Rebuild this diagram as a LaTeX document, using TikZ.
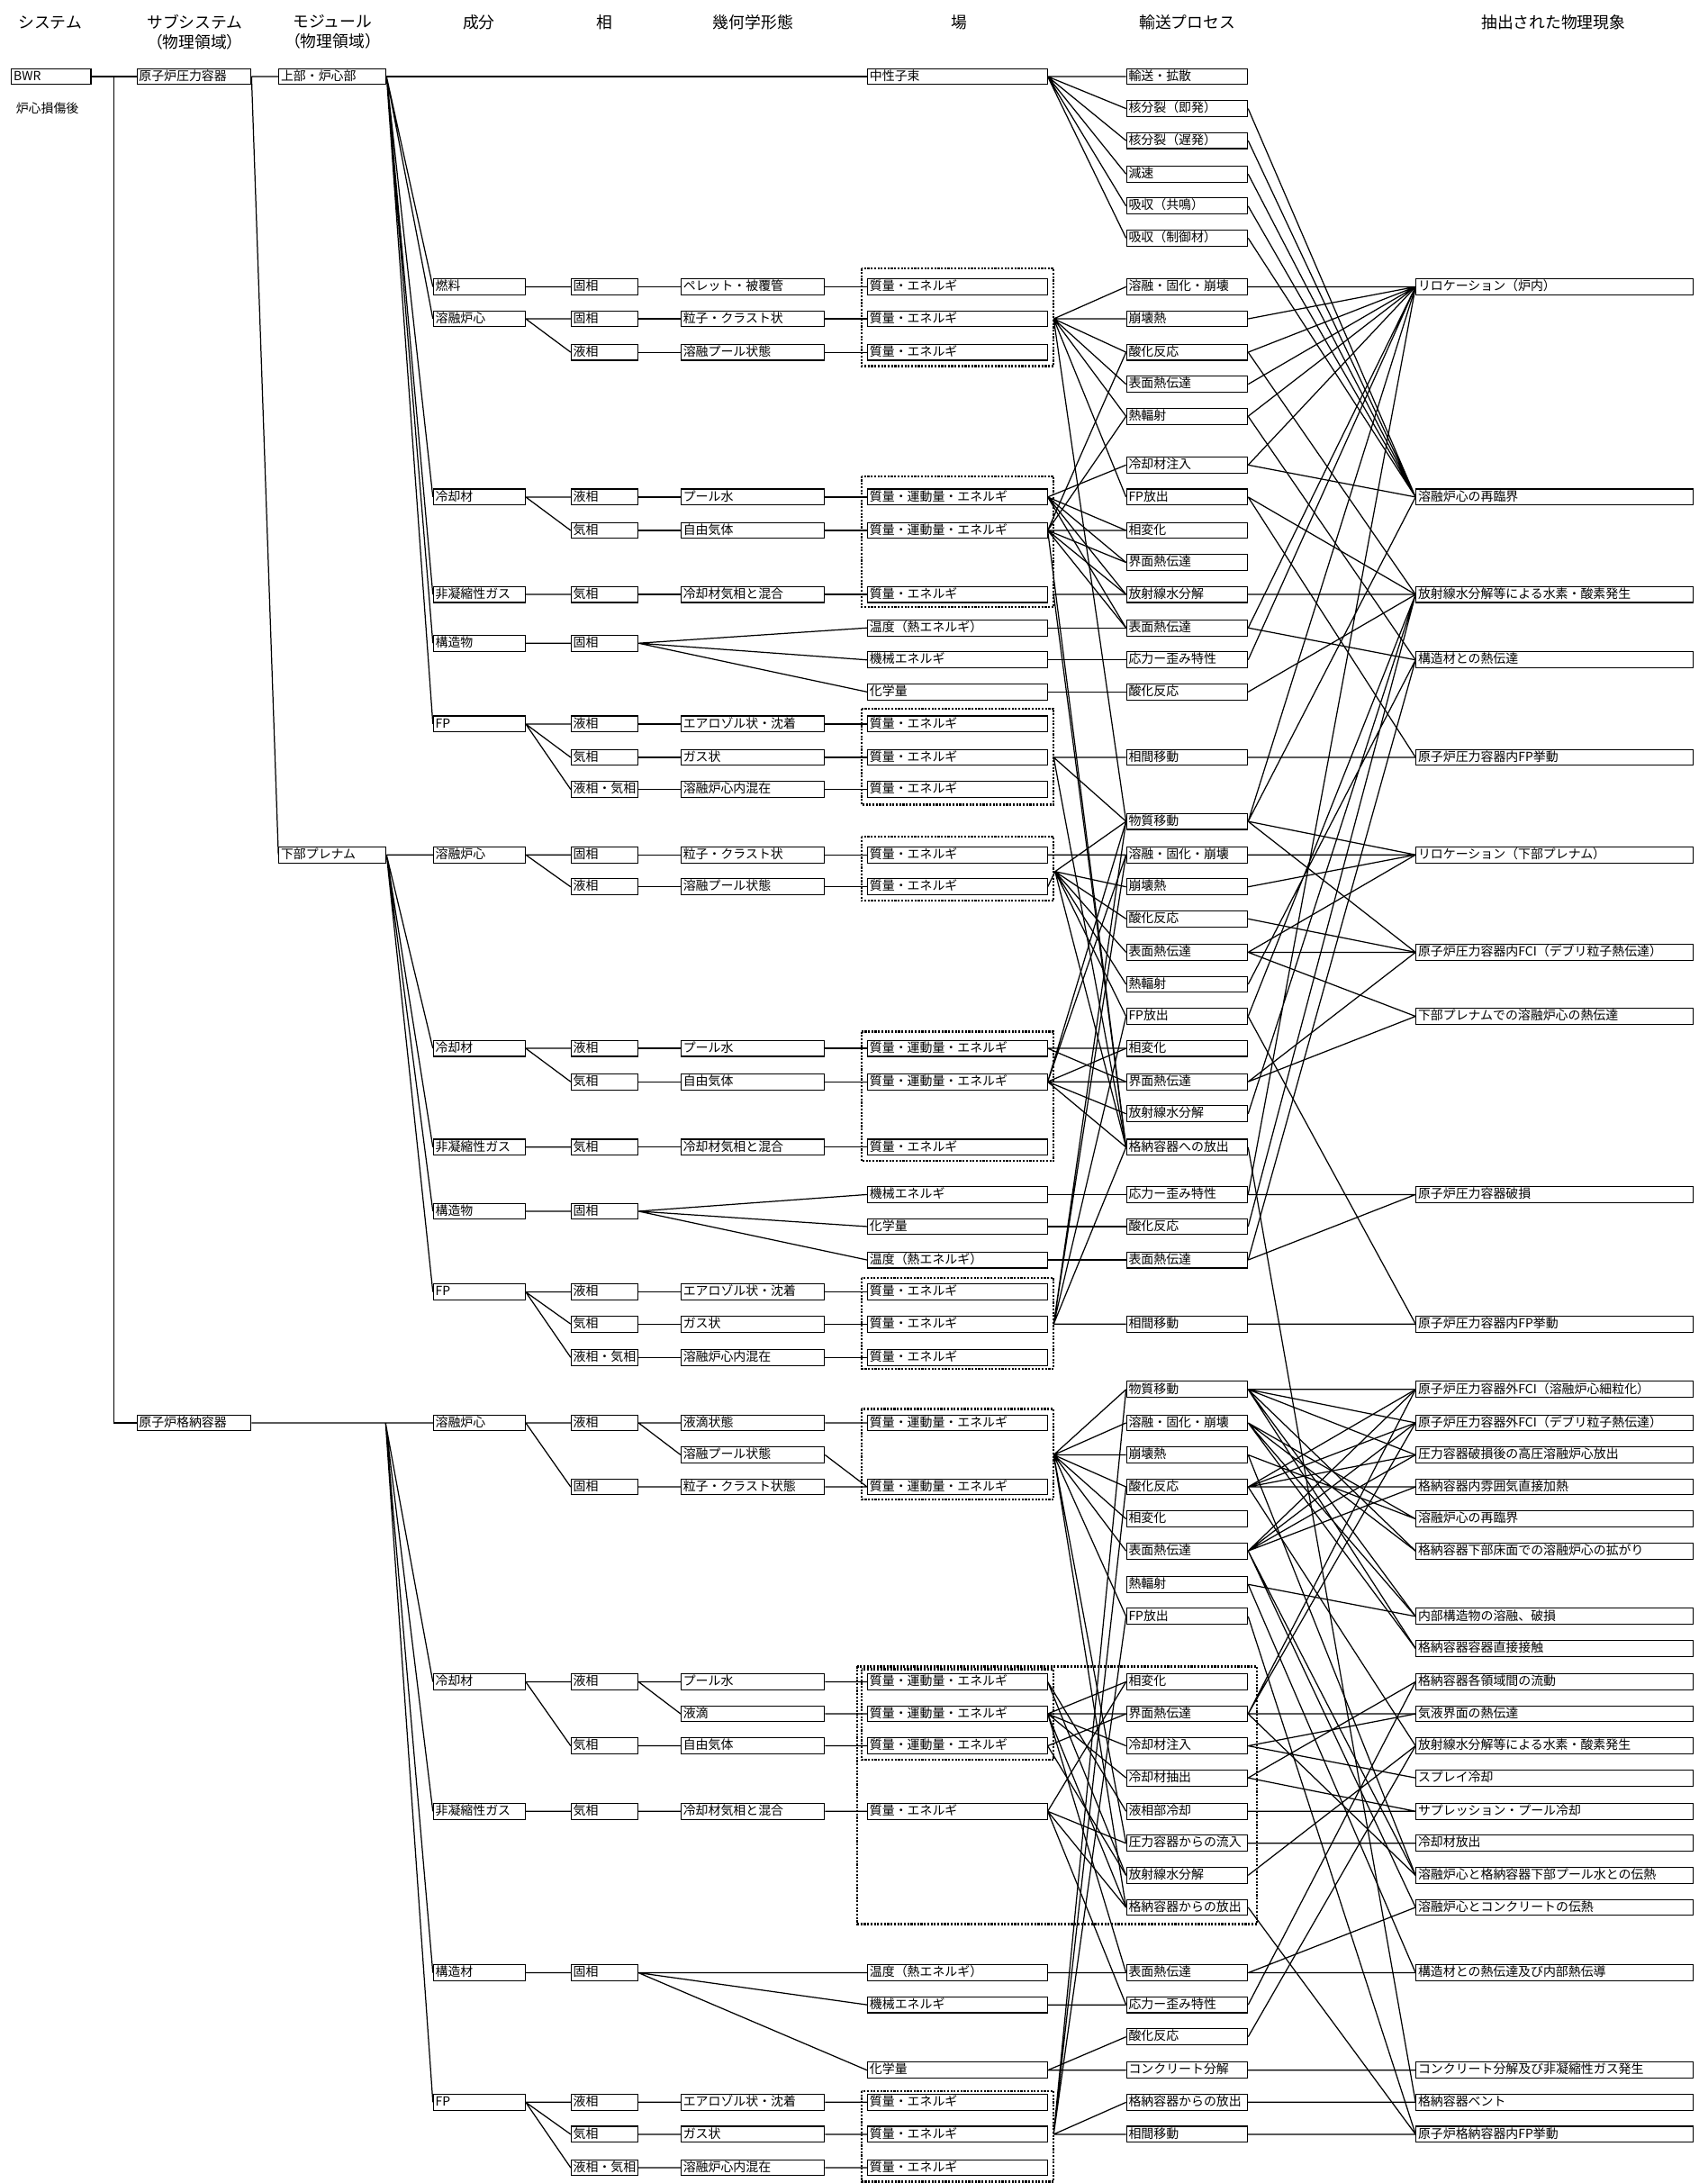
\documentclass[tikz,border=0pt]{standalone}
\usepackage{fontspec}
\setmainfont{Noto Sans CJK JP}

\tikzset{
  cell/.style={draw=black, line width=0.7pt, anchor=west, minimum height=11.5pt, inner xsep=1.5pt, inner ysep=0.5pt, text height=7.4pt, text depth=2pt, font=\fontsize{9}{9.5}\selectfont, align=left},
  sysbox/.style={cell, text width=54pt},
  subbox/.style={cell, text width=79pt},
  modbox/.style={cell, text width=74pt},
  compbox/.style={cell, text width=63pt},
  phasebox/.style={cell, text width=45pt},
  geobox/.style={cell, text width=100pt},
  fieldbox/.style={cell, text width=126pt},
  procbox/.style={cell, text width=84pt},
  phenbox/.style={cell, text width=196pt},
  grp/.style={densely dotted, line width=1.4pt},
  link/.style={line width=0.8pt},
  colhead/.style={font=\fontsize{11.5}{14}\selectfont, align=center}
}

\begin{document}
\begin{tikzpicture}[x=1pt, y=-1pt]
\useasboundingbox (0,0) rectangle (1227,1568);

% column headers
\node[colhead] (hsys) at (36,16) {システム};
\node[colhead] (hsub) at (140,23) {サブシステム\\（物理領域）};
\node[colhead] (hmod) at (239,23) {モジュール\\（物理領域）};
\node[colhead] (hcomp) at (344,16) {成分};
\node[colhead] (hphase) at (434,16) {相};
\node[colhead] (hgeo) at (541,16) {幾何学形態};
\node[colhead] (hfield) at (689,16) {場};
\node[colhead] (hproc) at (853,16) {輸送プロセス};
\node[colhead] (hphen) at (1116,16) {抽出された物理現象};

% system, subsystems, modules
\node[sysbox] (bwr) at (8,55) {BWR};
\node[anchor=west, font=\fontsize{9}{9.5}\selectfont] (dmg) at (8,78) {炉心損傷後};
\node[subbox] (srpv) at (98,55) {原子炉圧力容器};
\node[subbox] (spcv) at (98,1022) {原子炉格納容器};
\node[modbox] (mupper) at (200,55) {上部・炉心部};
\node[modbox] (mlower) at (200,614) {下部プレナム};

% dotted field groups
\draw[grp] (619,193) rectangle (757,263);
\draw[grp] (619,342) rectangle (757,436);
\draw[grp] (619,509) rectangle (757,578);
\draw[grp] (619,601) rectangle (757,647);
\draw[grp] (619,741) rectangle (757,834);
\draw[grp] (619,918) rectangle (757,983);
\draw[grp] (619,1012) rectangle (757,1077);
\draw[grp] (619,1199) rectangle (757,1264);
\draw[grp] (616,1197) rectangle (903,1382);
\draw[grp] (619,1502) rectangle (757,1567);

% ---- upper core ----
\node[compbox] (uc1) at (311,206) {燃料};
\node[compbox] (uc2) at (311,229) {溶融炉心};
\node[compbox] (uc3) at (311,357) {冷却材};
\node[compbox] (uc4) at (311,427) {非凝縮性ガス};
\node[compbox] (uc5) at (311,462) {構造物};
\node[compbox] (uc6) at (311,520) {FP};

\node[phasebox] (uh1) at (410,206) {固相};
\node[phasebox] (uh2) at (410,229) {固相};
\node[phasebox] (uh3) at (410,253) {液相};
\node[phasebox] (uh4) at (410,357) {液相};
\node[phasebox] (uh5) at (410,381) {気相};
\node[phasebox] (uh6) at (410,427) {気相};
\node[phasebox] (uh7) at (410,462) {固相};
\node[phasebox] (uh8) at (410,520) {液相};
\node[phasebox] (uh9) at (410,544) {気相};
\node[phasebox] (uh10) at (410,567) {液相・気相};

\node[geobox] (ug1) at (489,206) {ペレット・被覆管};
\node[geobox] (ug2) at (489,229) {粒子・クラスト状};
\node[geobox] (ug3) at (489,253) {溶融プール状態};
\node[geobox] (ug4) at (489,357) {プール水};
\node[geobox] (ug5) at (489,381) {自由気体};
\node[geobox] (ug6) at (489,427) {冷却材気相と混合};
\node[geobox] (ug7) at (489,520) {エアロゾル状・沈着};
\node[geobox] (ug8) at (489,544) {ガス状};
\node[geobox] (ug9) at (489,567) {溶融炉心内混在};

\node[fieldbox] (uf0) at (623,55) {中性子束};
\node[fieldbox] (uf1) at (623,206) {質量・エネルギ};
\node[fieldbox] (uf2) at (623,229) {質量・エネルギ};
\node[fieldbox] (uf3) at (623,253) {質量・エネルギ};
\node[fieldbox] (uf4) at (623,357) {質量・運動量・エネルギ};
\node[fieldbox] (uf5) at (623,381) {質量・運動量・エネルギ};
\node[fieldbox] (uf6) at (623,427) {質量・エネルギ};
\node[fieldbox] (uf7) at (623,451) {温度（熱エネルギ）};
\node[fieldbox] (uf8) at (623,474) {機械エネルギ};
\node[fieldbox] (uf9) at (623,497) {化学量};
\node[fieldbox] (uf10) at (623,520) {質量・エネルギ};
\node[fieldbox] (uf11) at (623,544) {質量・エネルギ};
\node[fieldbox] (uf12) at (623,567) {質量・エネルギ};

\node[procbox] (ut1) at (809,55) {輸送・拡散};
\node[procbox] (ut2) at (809,78) {核分裂（即発）};
\node[procbox] (ut3) at (809,101) {核分裂（遅発）};
\node[procbox] (ut4) at (809,125) {減速};
\node[procbox] (ut5) at (809,148) {吸収（共鳴）};
\node[procbox] (ut6) at (809,171) {吸収（制御材）};
\node[procbox] (ut7) at (809,206) {溶融・固化・崩壊};
\node[procbox] (ut8) at (809,229) {崩壊熱};
\node[procbox] (ut9) at (809,253) {酸化反応};
\node[procbox] (ut10) at (809,276) {表面熱伝達};
\node[procbox] (ut11) at (809,299) {熱輻射};
\node[procbox] (ut12) at (809,334) {冷却材注入};
\node[procbox] (ut13) at (809,357) {FP放出};
\node[procbox] (ut14) at (809,381) {相変化};
\node[procbox] (ut15) at (809,404) {界面熱伝達};
\node[procbox] (ut16) at (809,427) {放射線水分解};
\node[procbox] (ut17) at (809,451) {表面熱伝達};
\node[procbox] (ut18) at (809,474) {応力ー歪み特性};
\node[procbox] (ut19) at (809,497) {酸化反応};
\node[procbox] (ut20) at (809,544) {相間移動};

\node[phenbox] (up1) at (1017,206) {リロケーション（炉内）};
\node[phenbox] (up2) at (1017,357) {溶融炉心の再臨界};
\node[phenbox] (up3) at (1017,427) {放射線水分解等による水素・酸素発生};
\node[phenbox] (up4) at (1017,474) {構造材との熱伝達};
\node[phenbox] (up5) at (1017,544) {原子炉圧力容器内FP挙動};

% ---- lower plenum ----
\node[compbox] (lc1) at (311,614) {溶融炉心};
\node[compbox] (lc2) at (311,753) {冷却材};
\node[compbox] (lc3) at (311,824) {非凝縮性ガス};
\node[compbox] (lc4) at (311,870) {構造物};
\node[compbox] (lc5) at (311,928) {FP};

\node[phasebox] (lh1) at (410,614) {固相};
\node[phasebox] (lh2) at (410,637) {液相};
\node[phasebox] (lh3) at (410,753) {液相};
\node[phasebox] (lh4) at (410,777) {気相};
\node[phasebox] (lh5) at (410,824) {気相};
\node[phasebox] (lh6) at (410,870) {固相};
\node[phasebox] (lh7) at (410,928) {液相};
\node[phasebox] (lh8) at (410,951) {気相};
\node[phasebox] (lh9) at (410,975) {液相・気相};

\node[geobox] (lg1) at (489,614) {粒子・クラスト状};
\node[geobox] (lg2) at (489,637) {溶融プール状態};
\node[geobox] (lg3) at (489,753) {プール水};
\node[geobox] (lg4) at (489,777) {自由気体};
\node[geobox] (lg5) at (489,824) {冷却材気相と混合};
\node[geobox] (lg6) at (489,928) {エアロゾル状・沈着};
\node[geobox] (lg7) at (489,951) {ガス状};
\node[geobox] (lg8) at (489,975) {溶融炉心内混在};

\node[fieldbox] (lf1) at (623,614) {質量・エネルギ};
\node[fieldbox] (lf2) at (623,637) {質量・エネルギ};
\node[fieldbox] (lf3) at (623,753) {質量・運動量・エネルギ};
\node[fieldbox] (lf4) at (623,777) {質量・運動量・エネルギ};
\node[fieldbox] (lf5) at (623,824) {質量・エネルギ};
\node[fieldbox] (lf6) at (623,858) {機械エネルギ};
\node[fieldbox] (lf7) at (623,881) {化学量};
\node[fieldbox] (lf8) at (623,905) {温度（熱エネルギ）};
\node[fieldbox] (lf9) at (623,928) {質量・エネルギ};
\node[fieldbox] (lf10) at (623,951) {質量・エネルギ};
\node[fieldbox] (lf11) at (623,975) {質量・エネルギ};

\node[procbox] (lt1) at (809,590) {物質移動};
\node[procbox] (lt2) at (809,614) {溶融・固化・崩壊};
\node[procbox] (lt3) at (809,637) {崩壊熱};
\node[procbox] (lt4) at (809,660) {酸化反応};
\node[procbox] (lt5) at (809,684) {表面熱伝達};
\node[procbox] (lt6) at (809,707) {熱輻射};
\node[procbox] (lt7) at (809,730) {FP放出};
\node[procbox] (lt8) at (809,753) {相変化};
\node[procbox] (lt9) at (809,777) {界面熱伝達};
\node[procbox] (lt10) at (809,800) {放射線水分解};
\node[procbox] (lt11) at (809,824) {格納容器への放出};
\node[procbox] (lt12) at (809,858) {応力ー歪み特性};
\node[procbox] (lt13) at (809,881) {酸化反応};
\node[procbox] (lt14) at (809,905) {表面熱伝達};
\node[procbox] (lt15) at (809,951) {相間移動};

\node[phenbox] (lp1) at (1017,614) {リロケーション（下部プレナム）};
\node[phenbox] (lp2) at (1017,684) {原子炉圧力容器内FCI（デブリ粒子熱伝達）};
\node[phenbox] (lp3) at (1017,730) {下部プレナムでの溶融炉心の熱伝達};
\node[phenbox] (lp4) at (1017,858) {原子炉圧力容器破損};
\node[phenbox] (lp5) at (1017,951) {原子炉圧力容器内FP挙動};

% ---- containment ----
\node[compbox] (cc1) at (311,1022) {溶融炉心};
\node[compbox] (cc2) at (311,1208) {冷却材};
\node[compbox] (cc3) at (311,1301) {非凝縮性ガス};
\node[compbox] (cc4) at (311,1417) {構造材};
\node[compbox] (cc5) at (311,1510) {FP};

\node[phasebox] (ch1) at (410,1022) {液相};
\node[phasebox] (ch2) at (410,1068) {固相};
\node[phasebox] (ch3) at (410,1208) {液相};
\node[phasebox] (ch4) at (410,1254) {気相};
\node[phasebox] (ch5) at (410,1301) {気相};
\node[phasebox] (ch6) at (410,1417) {固相};
\node[phasebox] (ch7) at (410,1510) {液相};
\node[phasebox] (ch8) at (410,1533) {気相};
\node[phasebox] (ch9) at (410,1557) {液相・気相};

\node[geobox] (cg1) at (489,1022) {液滴状態};
\node[geobox] (cg2) at (489,1045) {溶融プール状態};
\node[geobox] (cg3) at (489,1068) {粒子・クラスト状態};
\node[geobox] (cg4) at (489,1208) {プール水};
\node[geobox] (cg5) at (489,1231) {液滴};
\node[geobox] (cg6) at (489,1254) {自由気体};
\node[geobox] (cg7) at (489,1301) {冷却材気相と混合};
\node[geobox] (cg8) at (489,1510) {エアロゾル状・沈着};
\node[geobox] (cg9) at (489,1533) {ガス状};
\node[geobox] (cg10) at (489,1557) {溶融炉心内混在};

\node[fieldbox] (cf1) at (623,1022) {質量・運動量・エネルギ};
\node[fieldbox] (cf2) at (623,1068) {質量・運動量・エネルギ};
\node[fieldbox] (cf3) at (623,1208) {質量・運動量・エネルギ};
\node[fieldbox] (cf4) at (623,1231) {質量・運動量・エネルギ};
\node[fieldbox] (cf5) at (623,1254) {質量・運動量・エネルギ};
\node[fieldbox] (cf6) at (623,1301) {質量・エネルギ};
\node[fieldbox] (cf7) at (623,1417) {温度（熱エネルギ）};
\node[fieldbox] (cf8) at (623,1440) {機械エネルギ};
\node[fieldbox] (cf9) at (623,1487) {化学量};
\node[fieldbox] (cf10) at (623,1510) {質量・エネルギ};
\node[fieldbox] (cf11) at (623,1533) {質量・エネルギ};
\node[fieldbox] (cf12) at (623,1557) {質量・エネルギ};

\node[procbox] (ct1) at (809,998) {物質移動};
\node[procbox] (ct2) at (809,1022) {溶融・固化・崩壊};
\node[procbox] (ct3) at (809,1045) {崩壊熱};
\node[procbox] (ct4) at (809,1068) {酸化反応};
\node[procbox] (ct5) at (809,1091) {相変化};
\node[procbox] (ct6) at (809,1114) {表面熱伝達};
\node[procbox] (ct7) at (809,1138) {熱輻射};
\node[procbox] (ct8) at (809,1161) {FP放出};
\node[procbox] (ct9) at (809,1208) {相変化};
\node[procbox] (ct10) at (809,1231) {界面熱伝達};
\node[procbox] (ct11) at (809,1254) {冷却材注入};
\node[procbox] (ct12) at (809,1277) {冷却材抽出};
\node[procbox] (ct13) at (809,1301) {液相部冷却};
\node[procbox] (ct14) at (809,1324) {圧力容器からの流入};
\node[procbox] (ct15) at (809,1347) {放射線水分解};
\node[procbox] (ct16) at (809,1370) {格納容器からの放出};
\node[procbox] (ct17) at (809,1417) {表面熱伝達};
\node[procbox] (ct18) at (809,1440) {応力ー歪み特性};
\node[procbox] (ct19) at (809,1463) {酸化反応};
\node[procbox] (ct20) at (809,1487) {コンクリート分解};
\node[procbox] (ct21) at (809,1510) {格納容器からの放出};
\node[procbox] (ct22) at (809,1533) {相間移動};

\node[phenbox] (cp1) at (1017,998) {原子炉圧力容器外FCI（溶融炉心細粒化）};
\node[phenbox] (cp2) at (1017,1022) {原子炉圧力容器外FCI（デブリ粒子熱伝達）};
\node[phenbox] (cp3) at (1017,1045) {圧力容器破損後の高圧溶融炉心放出};
\node[phenbox] (cp4) at (1017,1068) {格納容器内雰囲気直接加熱};
\node[phenbox] (cp5) at (1017,1091) {溶融炉心の再臨界};
\node[phenbox] (cp6) at (1017,1114) {格納容器下部床面での溶融炉心の拡がり};
\node[phenbox] (cp7) at (1017,1161) {内部構造物の溶融、破損};
\node[phenbox] (cp8) at (1017,1184) {格納容器容器直接接触};
\node[phenbox] (cp9) at (1017,1208) {格納容器各領域間の流動};
\node[phenbox] (cp10) at (1017,1231) {気液界面の熱伝達};
\node[phenbox] (cp11) at (1017,1254) {放射線水分解等による水素・酸素発生};
\node[phenbox] (cp12) at (1017,1277) {スプレイ冷却};
\node[phenbox] (cp13) at (1017,1301) {サプレッション・プール冷却};
\node[phenbox] (cp14) at (1017,1324) {冷却材放出};
\node[phenbox] (cp15) at (1017,1347) {溶融炉心と格納容器下部プール水との伝熱};
\node[phenbox] (cp16) at (1017,1370) {溶融炉心とコンクリートの伝熱};
\node[phenbox] (cp17) at (1017,1417) {構造材との熱伝達及び内部熱伝導};
\node[phenbox] (cp18) at (1017,1487) {コンクリート分解及び非凝縮性ガス発生};
\node[phenbox] (cp19) at (1017,1510) {格納容器ベント};
\node[phenbox] (cp20) at (1017,1533) {原子炉格納容器内FP挙動};

% branch points
\coordinate (trunk) at (82,55);
\coordinate (trunkend) at (82,1022);
\coordinate (cfan) at (277,1022);
\coordinate (usrc1) at (757,229);
\coordinate (usrc3) at (757,427);
\coordinate (usrc4) at (757,544);
\coordinate (lsrc1) at (758,626);
\coordinate (lsrc3) at (757,951);
\coordinate (csrc1) at (757,1045);
\coordinate (csrc4) at (757,1533);

% tree
\draw[link] (bwr.east) -- (trunk) -- (srpv.west);
\draw[link] (trunk) -- (trunkend) -- (spcv.west);
\draw[link] (srpv.east) -- (mupper.west) (srpv.east) -- (mlower.west);
\draw[link] (mupper.east) -- (uf0.west);
\draw[link] (mupper.east) -- (uc1.west) (mupper.east) -- (uc2.west) (mupper.east) -- (uc3.west) (mupper.east) -- (uc4.west) (mupper.east) -- (uc5.west) (mupper.east) -- (uc6.west);
\draw[link] (mlower.east) -- (lc1.west) (mlower.east) -- (lc2.west) (mlower.east) -- (lc3.west) (mlower.east) -- (lc4.west) (mlower.east) -- (lc5.west);
\draw[link] (spcv.east) -- (cc1.west) (cfan) -- (cc2.west) (cfan) -- (cc3.west) (cfan) -- (cc4.west) (cfan) -- (cc5.west);

% component -> phase
\draw[link] (uc1.east) -- (uh1.west) (uc2.east) -- (uh2.west) (uc2.east) -- (uh3.west) (uc3.east) -- (uh4.west) (uc3.east) -- (uh5.west) (uc4.east) -- (uh6.west) (uc5.east) -- (uh7.west) (uc6.east) -- (uh8.west) (uc6.east) -- (uh9.west) (uc6.east) -- (uh10.west);
\draw[link] (lc1.east) -- (lh1.west) (lc1.east) -- (lh2.west) (lc2.east) -- (lh3.west) (lc2.east) -- (lh4.west) (lc3.east) -- (lh5.west) (lc4.east) -- (lh6.west) (lc5.east) -- (lh7.west) (lc5.east) -- (lh8.west) (lc5.east) -- (lh9.west);
\draw[link] (cc1.east) -- (ch1.west) (cc1.east) -- (ch2.west) (cc2.east) -- (ch3.west) (cc2.east) -- (ch4.west) (cc3.east) -- (ch5.west) (cc4.east) -- (ch6.west) (cc5.east) -- (ch7.west) (cc5.east) -- (ch8.west) (cc5.east) -- (ch9.west);

% phase -> geometry
\draw[link] (uh1.east) -- (ug1.west) (uh2.east) -- (ug2.west) (uh3.east) -- (ug3.west) (uh4.east) -- (ug4.west) (uh5.east) -- (ug5.west) (uh6.east) -- (ug6.west) (uh8.east) -- (ug7.west) (uh9.east) -- (ug8.west) (uh10.east) -- (ug9.west);
\draw[link] (uh7.east) -- (uf7.west) (uh7.east) -- (uf8.west) (uh7.east) -- (uf9.west);
\draw[link] (lh1.east) -- (lg1.west) (lh2.east) -- (lg2.west) (lh3.east) -- (lg3.west) (lh4.east) -- (lg4.west) (lh5.east) -- (lg5.west) (lh7.east) -- (lg6.west) (lh8.east) -- (lg7.west) (lh9.east) -- (lg8.west);
\draw[link] (lh6.east) -- (lf6.west) (lh6.east) -- (lf7.west) (lh6.east) -- (lf8.west);
\draw[link] (ch1.east) -- (cg1.west) (ch1.east) -- (cg2.west) (ch2.east) -- (cg3.west) (ch3.east) -- (cg4.west) (ch3.east) -- (cg5.west) (ch4.east) -- (cg6.west) (ch5.east) -- (cg7.west) (ch7.east) -- (cg8.west) (ch8.east) -- (cg9.west) (ch9.east) -- (cg10.west);
\draw[link] (ch6.east) -- (cf7.west) (ch6.east) -- (cf8.west) (ch6.east) -- (cf9.west);

% geometry -> field
\draw[link] (ug1.east) -- (uf1.west) (ug2.east) -- (uf2.west) (ug3.east) -- (uf3.west) (ug4.east) -- (uf4.west) (ug5.east) -- (uf5.west) (ug6.east) -- (uf6.west) (ug7.east) -- (uf10.west) (ug8.east) -- (uf11.west) (ug9.east) -- (uf12.west);
\draw[link] (lg1.east) -- (lf1.west) (lg2.east) -- (lf2.west) (lg3.east) -- (lf3.west) (lg4.east) -- (lf4.west) (lg5.east) -- (lf5.west) (lg6.east) -- (lf9.west) (lg7.east) -- (lf10.west) (lg8.east) -- (lf11.west);
\draw[link] (cg1.east) -- (cf1.west) (cg2.east) -- (cf2.west) (cg3.east) -- (cf2.west) (cg4.east) -- (cf3.west) (cg5.east) -- (cf4.west) (cg6.east) -- (cf5.west) (cg7.east) -- (cf6.west) (cg8.east) -- (cf10.west) (cg9.east) -- (cf11.west) (cg10.east) -- (cf12.west);

% field -> transport process (upper core)
\draw[link] (uf0.east) -- (ut1.west) (uf0.east) -- (ut2.west) (uf0.east) -- (ut3.west) (uf0.east) -- (ut4.west) (uf0.east) -- (ut5.west) (uf0.east) -- (ut6.west);
\draw[link] (usrc1) -- (ut7.west) (usrc1) -- (ut8.west) (usrc1) -- (ut9.west) (usrc1) -- (ut10.west) (usrc1) -- (ut11.west) (usrc1) -- (ut13.west) (usrc1) -- (lt1.west);
\draw[link] (uf4.east) -- (ut12.west) (uf4.east) -- (ut14.west) (uf4.east) -- (ut15.west) (uf4.east) -- (ut16.west) (uf4.east) -- (ut17.west);
\draw[link] (uf5.east) -- (ut9.west) (uf5.east) -- (ut11.west) (uf5.east) -- (ut14.west) (uf5.east) -- (ut15.west) (uf5.east) -- (ut16.west) (uf5.east) -- (ut17.west) (uf5.east) -- (lt11.west);
\draw[link] (usrc3) -- (ut16.west) (usrc3) -- (lt11.west);
\draw[link] (uf7.east) -- (ut17.west) (uf8.east) -- (ut18.west) (uf9.east) -- (ut19.west);
\draw[link] (usrc4) -- (ut20.west) (usrc4) -- (lt1.west) (usrc4) -- (lt11.west);

% field -> transport process (lower plenum)
\draw[link] (lf1.east) -- (lt2.west) (lf2.east) -- (lsrc1);
\draw[link] (lsrc1) -- (lt1.west) (lsrc1) -- (lt3.west) (lsrc1) -- (lt4.west) (lsrc1) -- (lt5.west) (lsrc1) -- (lt6.west) (lsrc1) -- (lt7.west) (lsrc1) -- (lt11.west);
\draw[link] (lf3.east) -- (lt8.west) (lf3.east) -- (lt9.west);
\draw[link] (lf4.east) -- (lt1.west) (lf4.east) -- (lt2.west) (lf4.east) -- (lt8.west) (lf4.east) -- (lt9.west) (lf4.east) -- (lt10.west) (lf4.east) -- (lt11.west);
\draw[link] (lf6.east) -- (lt12.west) (lf7.east) -- (lt13.west) (lf8.east) -- (lt14.west);
\draw[link] (lsrc3) -- (lt15.west) (lsrc3) -- (lt1.west) (lsrc3) -- (lt2.west) (lsrc3) -- (lt7.west) (lsrc3) -- (lt11.west);

% field -> transport process (containment)
\draw[link] (csrc1) -- (ct1.west) (csrc1) -- (ct2.west) (csrc1) -- (ct3.west) (csrc1) -- (ct4.west) (csrc1) -- (ct5.west) (csrc1) -- (ct6.west) (csrc1) -- (ct8.west) (csrc1) -- (ct14.west) (csrc1) -- (ct16.west);
\draw[link] (cf3.east) -- (ct13.west) (cf3.east) -- (ct15.west);
\draw[link] (cf4.east) -- (ct9.west) (cf4.east) -- (ct10.west) (cf4.east) -- (ct11.west) (cf4.east) -- (ct12.west) (cf4.east) -- (ct16.west) (cf4.east) -- (ct17.west);
\draw[link] (cf5.east) -- (ct10.west) (cf5.east) -- (ct15.west);
\draw[link] (cf6.east) -- (ct9.west) (cf6.east) -- (ct14.west) (cf6.east) -- (ct16.west) (cf6.east) -- (ct18.west);
\draw[link] (cf7.east) -- (ct17.west) (cf8.east) -- (ct18.west) (cf9.east) -- (ct19.west) (cf9.east) -- (ct20.west);
\draw[link] (csrc4) -- (ct22.west) (csrc4) -- (ct21.west) (csrc4) -- (ct8.west) (csrc4) -- (ct1.west) (csrc4) -- (ct4.west);

% transport process -> phenomena (upper core)
\draw[link] (ut2.east) -- (up2.west) (ut3.east) -- (up2.west) (ut4.east) -- (up2.west) (ut5.east) -- (up2.west) (ut6.east) -- (up2.west);
\draw[link] (ut7.east) -- (up1.west) (ut8.east) -- (up1.west) (ut9.east) -- (up1.west) (ut9.east) -- (up3.west) (ut10.east) -- (up1.west) (ut11.east) -- (up1.west) (ut11.east) -- (up4.west);
\draw[link] (ut12.east) -- (up1.west) (ut12.east) -- (up2.west) (ut13.east) -- (up3.west) (ut13.east) -- (up5.west) (ut16.east) -- (up3.west);
\draw[link] (ut17.east) -- (up1.west) (ut17.east) -- (up4.west) (ut18.east) -- (up1.west) (ut19.east) -- (up3.west) (ut20.east) -- (up5.west);
\draw[link] (lt1.east) -- (up1.west) (lt1.east) -- (up2.west) (lt6.east) -- (up4.west) (lt7.east) -- (up3.west) (lt10.east) -- (up3.west) (lt12.east) -- (up1.west) (lt13.east) -- (up3.west) (lt14.east) -- (up4.west);

% transport process -> phenomena (lower plenum)
\draw[link] (lt1.east) -- (lp1.west) (lt1.east) -- (lp2.west) (lt2.east) -- (lp1.west) (lt3.east) -- (lp1.west) (lt4.east) -- (lp2.west);
\draw[link] (lt5.east) -- (lp1.west) (lt5.east) -- (lp2.west) (lt5.east) -- (lp3.west) (lt7.east) -- (lp5.west) (lt9.east) -- (lp2.west) (lt9.east) -- (lp3.west);
\draw[link] (lt11.east) -- (cp19.west) (lt12.east) -- (lp4.west) (lt14.east) -- (lp4.west) (lt15.east) -- (lp5.west);

% transport process -> phenomena (containment)
\draw[link] (ct1.east) -- (cp1.west) (ct1.east) -- (cp2.west) (ct1.east) -- (cp3.west) (ct1.east) -- (cp6.west) (ct1.east) -- (cp7.west) (ct1.east) -- (cp8.west);
\draw[link] (ct2.east) -- (cp5.west) (ct2.east) -- (cp6.west) (ct2.east) -- (cp7.west) (ct2.east) -- (cp8.west) (ct3.east) -- (cp5.west) (ct3.east) -- (cp15.west);
\draw[link] (ct4.east) -- (cp1.west) (ct4.east) -- (cp2.west) (ct4.east) -- (cp3.west) (ct4.east) -- (cp4.west) (ct4.east) -- (cp11.west);
\draw[link] (ct6.east) -- (cp1.west) (ct6.east) -- (cp2.west) (ct6.east) -- (cp3.west) (ct6.east) -- (cp4.west) (ct6.east) -- (cp15.west) (ct6.east) -- (cp16.west);
\draw[link] (ct7.east) -- (cp7.west) (ct7.east) -- (cp17.west) (ct8.east) -- (cp20.west);
\draw[link] (ct10.east) -- (cp1.west) (ct10.east) -- (cp2.west) (ct10.east) -- (cp10.west) (ct10.east) -- (cp15.west);
\draw[link] (ct11.east) -- (cp10.west) (ct11.east) -- (cp12.west) (ct12.east) -- (cp13.west) (ct12.east) -- (cp9.west) (ct13.east) -- (cp13.west) (ct14.east) -- (cp14.west);
\draw[link] (ct15.east) -- (cp11.west) (ct16.east) -- (cp20.west) (ct17.east) -- (cp17.west) (ct17.east) -- (cp16.west) (ct18.east) -- (cp9.west);
\draw[link] (ct19.east) -- (cp11.west) (ct20.east) -- (cp18.west) (ct21.east) -- (cp19.west) (ct22.east) -- (cp20.west);

\end{tikzpicture}
\end{document}
